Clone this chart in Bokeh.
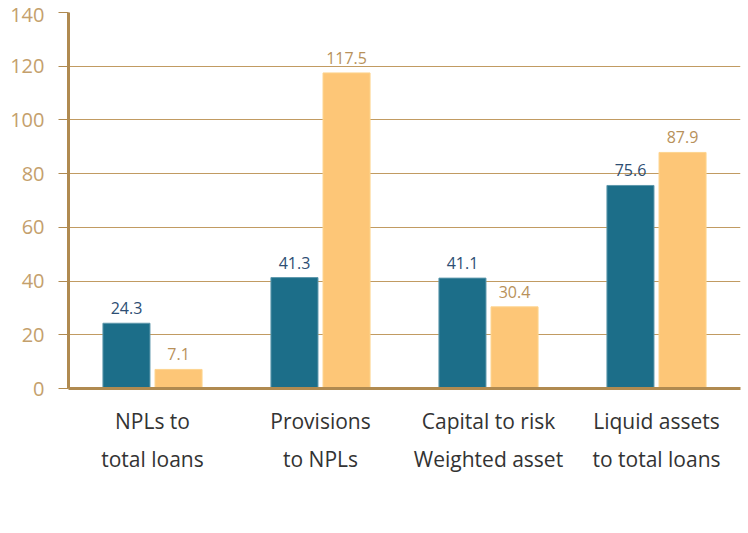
from bokeh.plotting import figure
from bokeh.models import ColumnDataSource, Range1d, FactorRange, Legend, CategoricalAxis, CustomJSTickFormatter
from bokeh.transform import dodge
from bokeh.core.properties import value
from bokeh.embed import file_html
from bokeh.resources import INLINE

cat_line1 = ["NPLs to", "Provisions", "Capital to risk", "Liquid assets"]
cat_line2 = ["total loans", "to NPLs", "Weighted asset", "to total loans"]
june_2022 = [24.3, 41.3, 41.1, 75.6]
june_2023 = [7.1, 117.5, 30.4, 87.9]
series_names = ["June 2022", "June 2023"]
y_ticks = [0, 20, 40, 60, 80, 100, 120, 140]

categories = [f"{a}|{b}" for a, b in zip(cat_line1, cat_line2)]

TEAL = "#1C6E89"
ORANGE = "#FDC677"
GOLD = "#B08A50"
TICKC = "#C4A06C"
FONT = "Open Sans"

src = ColumnDataSource(dict(
    cat=categories,
    a=june_2022,
    b=june_2023,
    a_lbl=[f"{v:.1f}" for v in june_2022],
    b_lbl=[f"{v:.1f}" for v in june_2023],
))

p = figure(x_range=FactorRange(factors=categories, range_padding=0),
           y_range=Range1d(0, 140),
           frame_width=672, frame_height=376,
           output_backend="svg", toolbar_location=None)
p.margin = (7, 0, 0, 7)
p.min_border_bottom = 0
p.outline_line_color = None
p.background_fill_color = "white"

r1 = p.vbar(x=dodge("cat", -0.155, range=p.x_range), top="a", width=0.28, source=src,
            fill_color=TEAL, line_color="#5E98AC", line_width=1)
r2 = p.vbar(x=dodge("cat", 0.155, range=p.x_range), top="b", width=0.28, source=src,
            fill_color=ORANGE, line_color="#FDD48F", line_width=1)

p.text(x=dodge("cat", -0.155, range=p.x_range), y="a", text="a_lbl", source=src,
       text_align="center", text_baseline="alphabetic", y_offset=-15,
       text_font=value(FONT), text_font_size="16px", text_color="#2D4E73")
p.text(x=dodge("cat", 0.155, range=p.x_range), y="b", text="b_lbl", source=src,
       text_align="center", text_baseline="alphabetic", y_offset=-15,
       text_font=value(FONT), text_font_size="16px", text_color="#B8915A")

# y axis
ya = p.yaxis[0]
ya.ticker = y_ticks
ya.axis_line_color = GOLD
ya.axis_line_width = 3
ya.major_tick_out = 10
ya.major_tick_in = 0
ya.major_tick_line_color = GOLD
ya.major_tick_line_width = 1
ya.minor_tick_line_color = None
ya.major_label_text_font = FONT
ya.major_label_text_font_size = "20px"
ya.major_label_text_color = TICKC
ya.major_label_standoff = 14

# x axis: first line of each category label
xa = p.xaxis[0]
xa.axis_line_color = GOLD
xa.axis_line_width = 3
xa.major_tick_line_color = None
xa.minor_tick_line_color = None
xa.major_label_text_font = FONT
xa.major_label_text_font_size = "21px"
xa.major_label_text_color = "#333333"
xa.major_label_standoff = 12
xa.formatter = CustomJSTickFormatter(code="return String(tick).split('|')[0];")

# second axis: second line of each category label
xa2 = CategoricalAxis(axis_line_color=None, major_tick_line_color=None,
                      minor_tick_line_color=None,
                      major_label_text_font=FONT, major_label_text_font_size="21px",
                      major_label_text_color="#333333", major_label_standoff=1)
xa2.formatter = CustomJSTickFormatter(code="return String(tick).split('|')[1];")
p.add_layout(xa2, "below")

p.xgrid.grid_line_color = None
p.ygrid.ticker = y_ticks
p.ygrid.grid_line_color = "#C19B62"
p.ygrid.grid_line_width = 1

legend = Legend(items=[(series_names[0], [r1]), (series_names[1], [r2])],
                orientation="horizontal", location="center")
legend.border_line_color = None
legend.background_fill_alpha = 0
legend.glyph_width = 20
legend.glyph_height = 20
legend.label_text_font = FONT
legend.label_text_font_size = "21px"
legend.label_text_color = GOLD
legend.label_standoff = 10
legend.spacing = 32
legend.margin = 8
legend.padding = 2
p.add_layout(legend, "below")

open("out.html", "w").write(file_html(p, INLINE))
